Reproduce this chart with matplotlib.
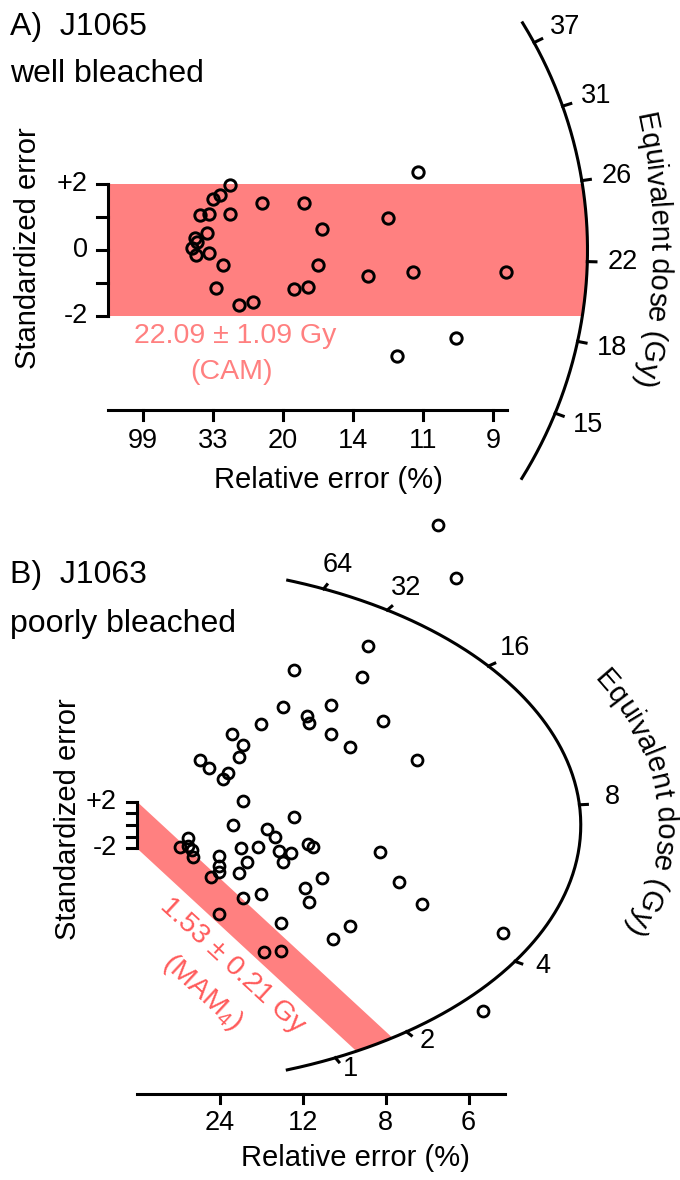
import numpy as np
import matplotlib
matplotlib.use("Agg")
import matplotlib.pyplot as plt
from matplotlib.font_manager import FontProperties

plt.rcParams['font.family'] = ['Liberation Sans', 'DejaVu Sans']
plt.rcParams['mathtext.fontset'] = 'custom'
plt.rcParams['mathtext.rm'] = 'Liberation Sans'
plt.rcParams['mathtext.default'] = 'rm'

# ---- A) J1065, well bleached (x = precision, y = standardised estimate)
prec_a = [8.86, 3.49, 3.20, 3.00, 2.63, 2.89, 3.49, 4.40, 5.60, 6.11,
          2.83, 2.49, 2.54, 2.40, 2.51, 2.89, 3.29, 6.00, 8.00, 7.43,
          8.71, 11.37, 3.09, 5.31, 5.71, 3.74, 4.14, 9.94, 8.26]
std_a = [2.36, 1.97, 1.67, 1.55, 1.06, 1.09, 1.09, 1.42, 1.42, 0.64,
         0.52, 0.36, 0.24, 0.06, -0.15, -0.09, -0.45, -0.45, 0.97, -0.79,
         -0.67, -0.67, -1.15, -1.18, -1.12, -1.67, -1.58, -2.67, -3.21]
cam_de = 22.09
cam_err = 1.09
a_z_range = [12.3, 39.5]
a_z_ticks = [15.0, 17.97, 21.53, 25.80, 30.90, 37.02]
a_z_labels = ['15', '18', '22', '26', '31', '37']
a_x_ticks = [1, 3, 5, 7, 9, 11]
a_x_labels = ['99', '33', '20', '14', '11', '9']

# ---- B) J1063, poorly bleached
prec_b = [15.13, 16.03, 7.89, 11.61, 11.31, 7.34, 8.54, 8.64, 9.75, 9.75,
          6.23, 12.36, 10.70, 4.77, 5.33, 5.13, 3.17, 3.62, 4.57, 4.32,
          14.07, 5.33, 7.89, 4.82, 6.53, 6.93, 2.56, 2.16, 2.56, 2.76,
          2.81, 5.23, 6.08, 7.14, 7.74, 8.59, 8.84, 4.12, 4.12, 4.12,
          3.72, 5.53, 5.13, 7.34, 9.30, 8.44, 8.64, 5.33, 6.23, 4.12,
          7.24, 6.38, 7.24, 9.85, 10.70, 12.21, 13.17, 14.32, 18.39, 17.39]
std_b = [25.71, 21.17, 13.28, 15.34, 12.68, 10.11, 9.34, 8.74, 10.28, 7.80,
         8.65, 8.91, 6.68, 7.80, 6.86, 5.83, 5.57, 4.88, 4.46, 3.94,
         5.57, 2.06, 0.69, 0.00, -0.34, -1.03, -1.11, -1.89, -1.80, -2.14,
         -2.74, -1.97, -1.89, -2.23, -2.40, -1.63, -1.89, -2.66, -3.51, -4.03,
         -4.46, -3.17, -4.11, -3.17, -4.54, -5.40, -6.60, -6.26, -5.91, -7.63,
         -8.40, -10.88, -10.80, -9.77, -8.65, -2.31, -4.88, -6.77, -9.25, -15.94]
mam_de = 1.53
mam_err = 0.21
b_central = 7.4
b_z_range = [0.46, 118]
b_z_ticks = [1, 2, 4, 8, 16, 32, 64]
b_rel_err = [24, 12, 8, 6]

W, H = 680, 1180
BAND = '#ff8080'
FS_TICK = 19.5
FS_LAB = 21
LW = 2.2

fig = plt.figure(figsize=(W / 100, H / 100), dpi=100)


def make_axes(top, bottom, x0, y0, sx, sy):
    ax = fig.add_axes([0, 1 - bottom / H, 1, (bottom - top) / H])
    ax.set_xlim(-x0 / sx, (W - x0) / sx)
    ax.set_ylim((y0 - bottom) / sy, (y0 - top) / sy)
    ax.axis('off')
    return ax


def ftext(xp, yp, s, **kw):
    fig.text(xp / W, 1 - yp / H, s, **kw)


def on_arc(z, z0, r):
    s = np.log(z) - z0
    x = r / np.sqrt(1 + s ** 2)
    return x, s * x


def draw_arc(ax, z0, r, zrange, ticks, labels, lab_fac, lab_dy=0.0):
    zz = np.exp(np.linspace(np.log(zrange[0]), np.log(zrange[1]), 400))
    x, y = on_arc(zz, z0, r)
    ax.plot(x, y, color='k', lw=LW)
    for t, lab in zip(ticks, labels):
        x, y = on_arc(t, z0, r)
        ax.plot([x, x * 1.018], [y, y * 1.018], color='k', lw=LW)
        ax.text(x * lab_fac, y * lab_fac + lab_dy, lab, ha='center', va='center',
                fontsize=FS_TICK)


def draw_band(ax, z0, r, est):
    s = np.log(est) - z0

    def cut(c):
        return (-s * c + np.sqrt((s * c) ** 2 - (1 + s * s) * (c * c - r * r))) / (1 + s * s)

    xu, xl = cut(2), cut(-2)
    th = np.linspace(np.arctan2(s * xu + 2, xu), np.arctan2(s * xl - 2, xl), 100)
    ax.fill(np.r_[0, r * np.cos(th), 0], np.r_[2, r * np.sin(th), -2],
            color=BAND, lw=0, zorder=0)
    return s


def draw_yaxis(ax, labels, tick_len, gap):
    ax.plot([0, 0], [-2, 2], color='k', lw=LW)
    for v in [-2, -1, 0, 1, 2]:
        ax.plot([-tick_len, 0], [v, v], color='k', lw=LW)
    for v, lab in labels:
        ax.text(-gap, v, lab, ha='right', va='center', fontsize=FS_TICK)


def draw_xaxis(ax, xmax, yax, ticks, labels, tick_len, lab_y):
    ax.plot([0, xmax], [yax, yax], color='k', lw=LW)
    for t, lab in zip(ticks, labels):
        ax.plot([t, t], [yax, yax - tick_len], color='k', lw=LW)
        ax.text(t, lab_y, lab, ha='center', va='center', fontsize=FS_TICK)


def curved_label(ax, text, radius, t_mid, size, cx=0.0):
    # letters laid along an ellipse (a circle in data units) centred at (cx, 0)
    o = ax.transData.transform((cx, 0))
    ea = ax.transData.transform((cx + radius, 0))[0] - o[0]
    eb = ax.transData.transform((cx, radius))[1] - o[1]
    rend = fig.canvas.get_renderer()
    prop = FontProperties(family='Liberation Sans', size=size)
    adv = [0.0] + [rend.get_text_width_height_descent(text[:i], prop, ismath=False)[0]
                   for i in range(1, len(text) + 1)]
    ts = np.linspace(t_mid + 1.2, t_mid - 1.2, 4001)
    seg = np.hypot(np.diff(ea * np.cos(ts)), np.diff(eb * np.sin(ts)))
    dist = np.r_[0, np.cumsum(seg)]
    start = np.interp(t_mid, ts[::-1], dist[::-1]) - adv[-1] / 2
    inv = ax.transData.inverted()
    for i, ch in enumerate(text):
        if ch == ' ':
            continue
        t = np.interp(start + (adv[i] + adv[i + 1]) / 2, dist, ts)
        x, y = inv.transform((o[0] + ea * np.cos(t), o[1] + eb * np.sin(t)))
        ang = np.degrees(np.arctan2(-eb * np.cos(t), ea * np.sin(t)))
        ax.text(x, y, ch, rotation=ang, rotation_mode='anchor',
                ha='center', va='baseline', fontsize=size)


# ---------------- panel A ----------------
axA = make_axes(0, 500, 108, 250, 35, 33)
z0a = np.log(cam_de)
draw_band(axA, z0a, 13.7, cam_de)
draw_arc(axA, z0a, 13.7, a_z_range, a_z_ticks, a_z_labels, 1.073)
draw_yaxis(axA, [(2, '+2'), (0, '0'), (-2, '-2')], 11 / 35, 20 / 35)
draw_xaxis(axA, 11.4, -4.85, a_x_ticks, a_x_labels, 10 / 33, -5.79)
axA.plot(prec_a, std_a, 'o', mfc='none', mec='k', ms=8.2, mew=2.1)
curved_label(axA, 'Equivalent dose (Gy)', 20.5, 0.0, FS_LAB, cx=-5.0)

ftext(10, 35, 'A)  J1065', fontsize=23, va='baseline')
ftext(10, 82, 'well bleached', fontsize=23, va='baseline')
ftext(28, 248, 'Standardized error', fontsize=FS_LAB, rotation=90,
      ha='center', va='center')
ftext(328, 480, 'Relative error (%)', fontsize=FS_LAB, ha='center', va='center')
ftext(235, 336, f'{cam_de:.2f} ± {cam_err:.2f} Gy', fontsize=20.5,
      color=BAND, ha='center', va='center')
ftext(231, 372, '(CAM)', fontsize=20.5, color=BAND, ha='center', va='center')

# ---------------- panel B ----------------
axB = make_axes(500, 1180, 137, 825, 19.9, 11.67)
z0b = np.log(b_central)
sb = draw_band(axB, z0b, 22.3, mam_de)
draw_arc(axB, z0b, 22.3, b_z_range, b_z_ticks, [str(v) for v in b_z_ticks],
         1.075, lab_dy=6 / 11.67)
draw_yaxis(axB, [(2, '+2'), (-2, '-2')], 10 / 19.9, 20 / 19.9)
draw_xaxis(axB, 18.5, -23.05, [100 / v for v in b_rel_err],
           [str(v) for v in b_rel_err], 9 / 11.67, -25.54)
axB.plot(prec_b, std_b, 'o', mfc='none', mec='k', ms=7.9, mew=2.0)
curved_label(axB, 'Equivalent dose (Gy)', 26.1, 0.087, FS_LAB)

p0 = axB.transData.transform((0, 0))
p1 = axB.transData.transform((1, sb))
band_ang = np.degrees(np.arctan2(p1[1] - p0[1], p1[0] - p0[0]))
ftext(10, 583, 'B)  J1063', fontsize=23, va='baseline')
ftext(10, 632, 'poorly bleached', fontsize=23, va='baseline')
ftext(68, 819, 'Standardized error', fontsize=FS_LAB, rotation=90,
      ha='center', va='center')
ftext(355, 1158, 'Relative error (%)', fontsize=FS_LAB, ha='center', va='center')
ftext(232, 966, f'{mam_de:.2f} ± {mam_err:.2f} Gy', fontsize=20.5, color='#ff5a5a',
      rotation=band_ang, rotation_mode='anchor', ha='center', va='center')
ftext(202, 992, r'(MAM$_4$)', fontsize=20.5, color='#ff5a5a',
      rotation=band_ang, rotation_mode='anchor', ha='center', va='center')

fig.savefig('out.png', dpi=100)
